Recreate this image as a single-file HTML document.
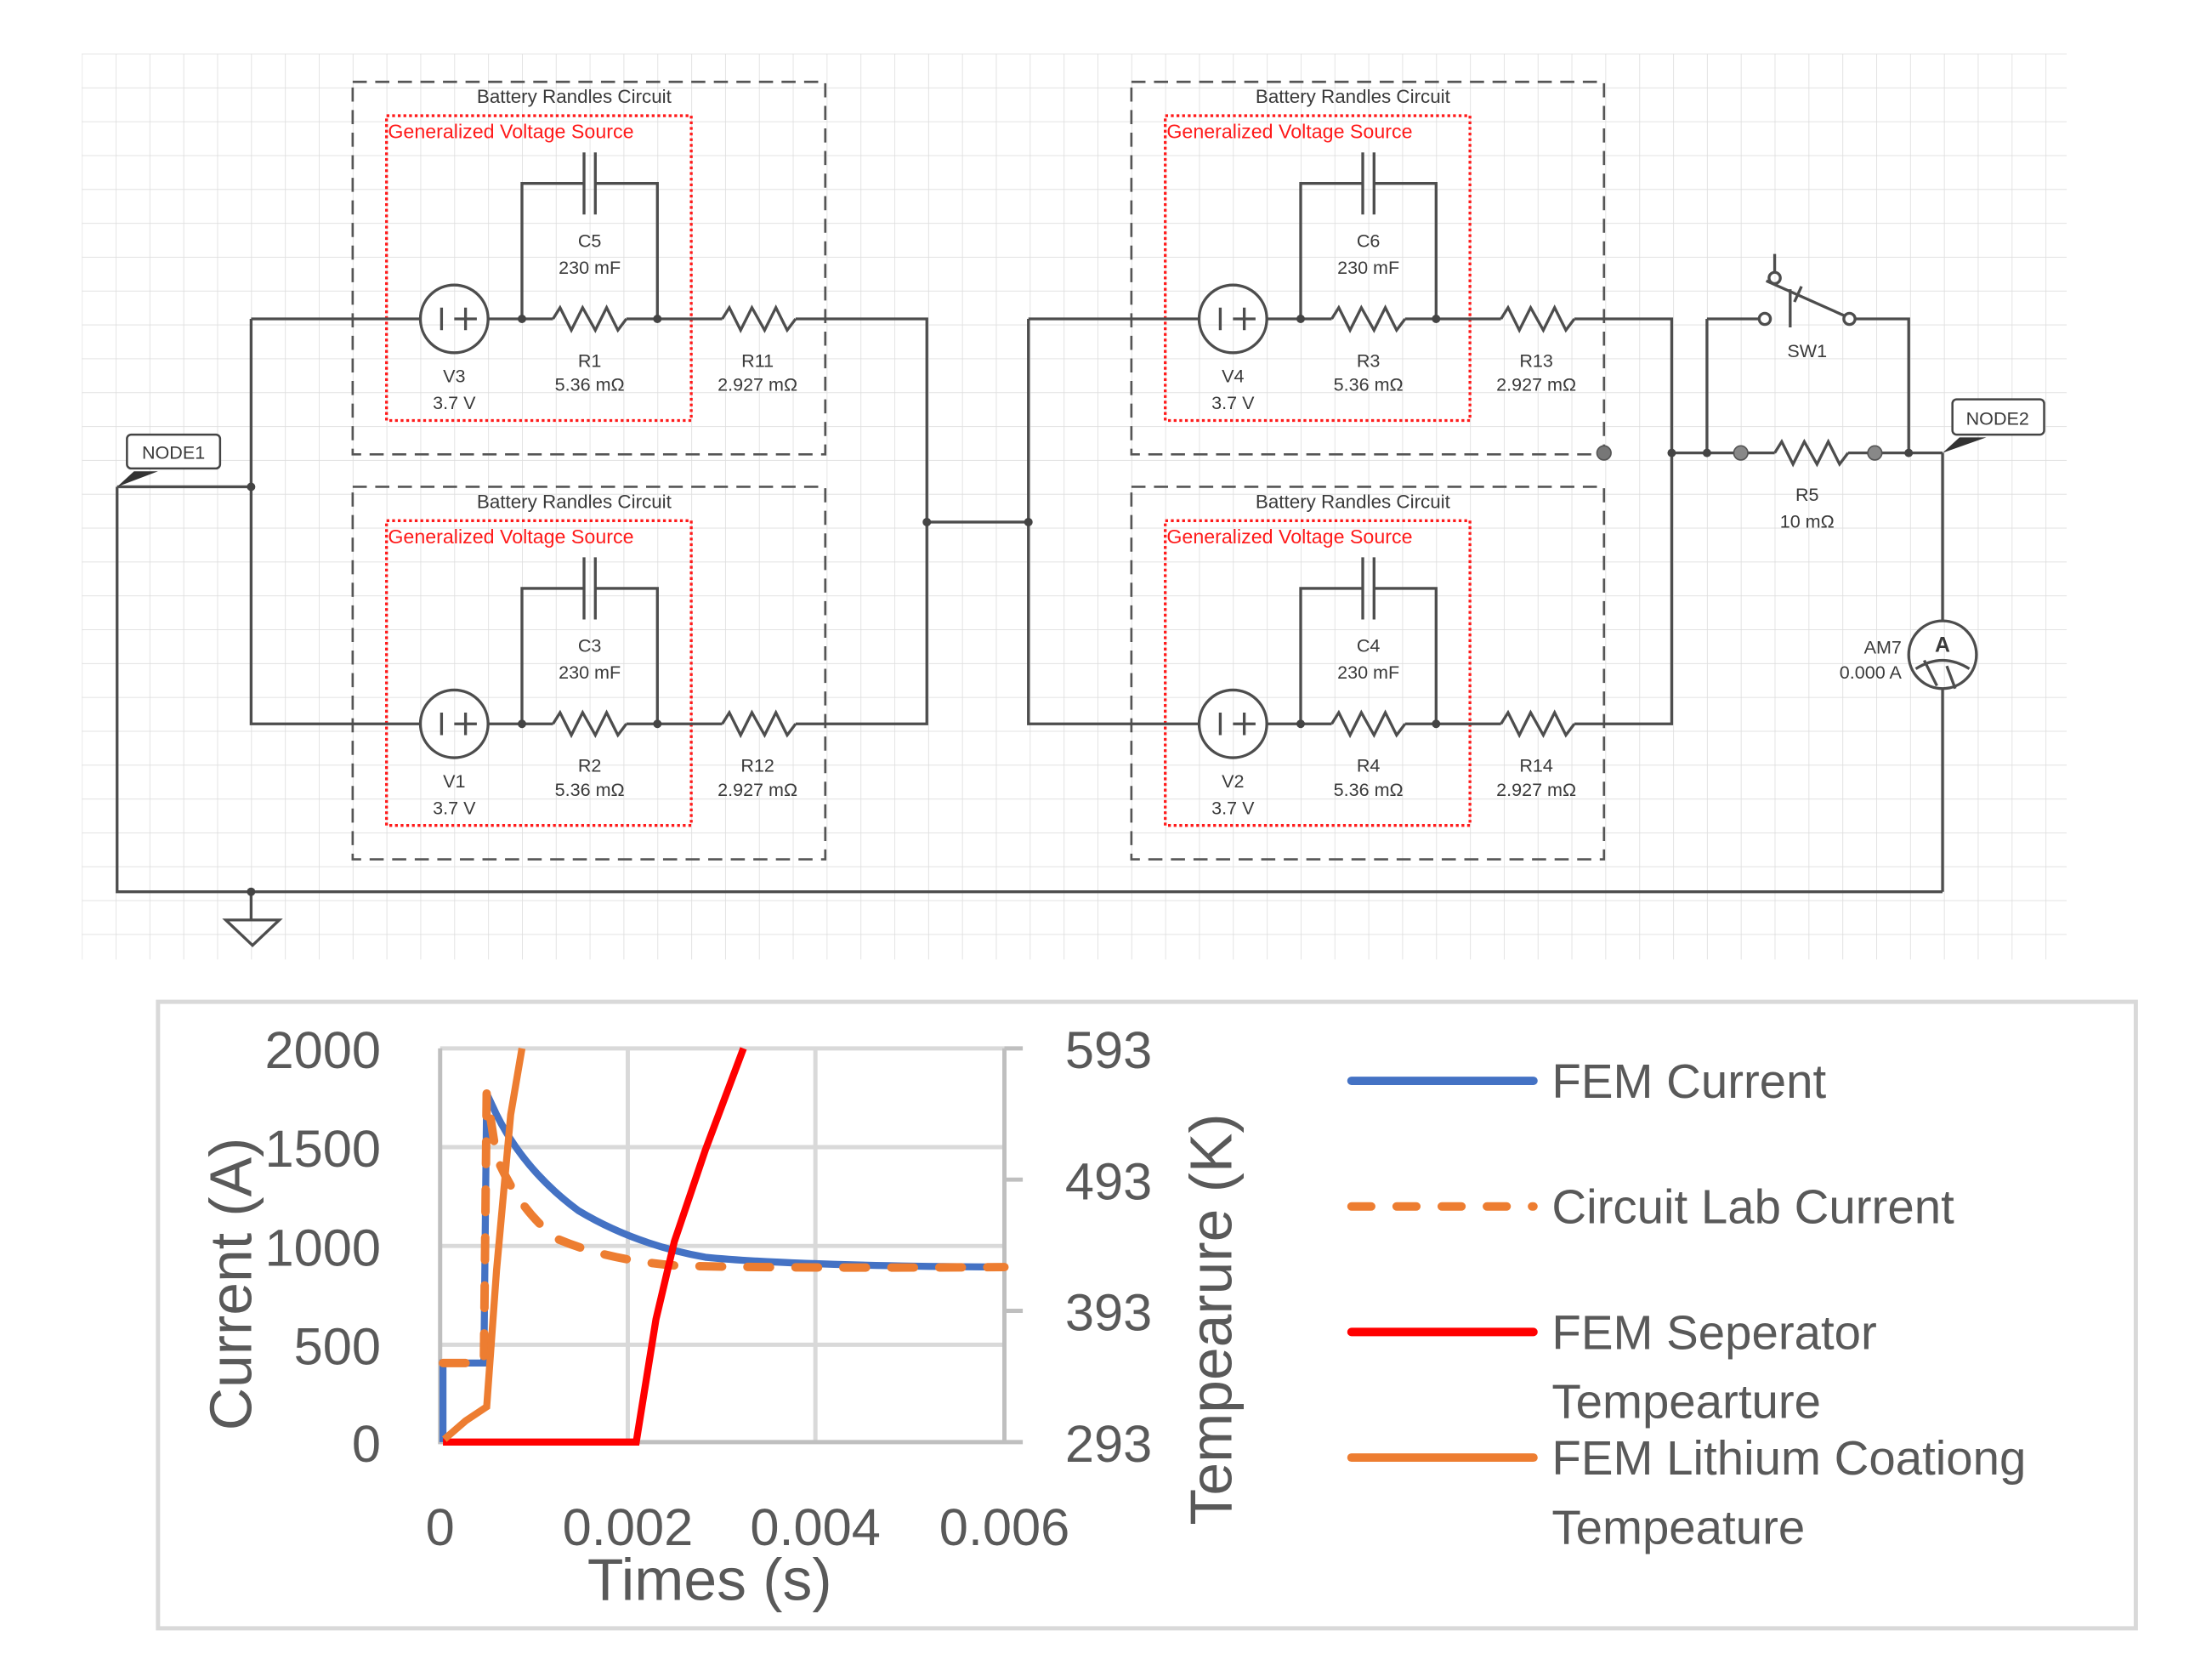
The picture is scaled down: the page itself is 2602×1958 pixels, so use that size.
<!DOCTYPE html>
<html><head><meta charset="utf-8"><style>
html,body{margin:0;padding:0;background:#fff;width:2602px;height:1958px;overflow:hidden}
svg{display:block}
.w{stroke:#4d4d4d;stroke-width:2;fill:none}
.t{font-family:"Liberation Sans",sans-serif;font-size:13px;fill:#3a3a3a;text-anchor:middle}
.c{font-family:"Liberation Sans",sans-serif;fill:#595959}
</style></head><body>
<svg width="2602" height="1958" viewBox="0 0 1568 1180" preserveAspectRatio="none">
<defs>
<pattern id="g" x="58" y="38" width="24" height="24" patternUnits="userSpaceOnUse">
<path d="M0 0H24M0 0V24" stroke="#dedede" stroke-width="1" fill="none"/>
</pattern>
<path id="res" d="M0 0 L5 -8 L13 8 L21 -8 L30 8 L38 -8 L46 8 L52 0" class="w"/>
<g id="box">
<rect x="250" y="58" width="335" height="264" fill="none" stroke="#555" stroke-width="1.6" stroke-dasharray="10 6"/>
<rect x="274" y="82" width="216" height="216" fill="none" stroke="#ff1a1a" stroke-width="2" stroke-dasharray="2 2"/>
<text x="407" y="73" class="t" style="font-size:13.5px">Battery Randles Circuit</text>
<text x="275" y="98" class="t" style="text-anchor:start;fill:#ff1a1a;font-size:14px">Generalized Voltage Source</text>
<circle cx="322" cy="226" r="24" class="w"/>
<path d="M313 218V234M322 226H338M330 218V234" class="w" stroke-width="1.6"/>
<path d="M346 226H392M444 226H512M564 226H585" class="w"/>
<use href="#res" x="392" y="226"/><use href="#res" x="512" y="226"/>
<path d="M370 226V130H414M422 130H466V226M414 108V152M422 108V152" class="w"/>
<circle cx="370" cy="226" r="3" fill="#444"/><circle cx="466" cy="226" r="3" fill="#444"/>
</g>
</defs>
<rect x="58" y="38" width="1407" height="642" fill="url(#g)"/>
<use href="#box"/>
<use href="#box" y="287"/>
<use href="#box" x="552"/>
<use href="#box" x="552" y="287"/>
<g class="t">
<text x="418" y="175">C5</text><text x="418" y="194">230 mF</text>
<text x="322" y="271">V3</text><text x="322" y="290">3.7 V</text>
<text x="418" y="260">R1</text><text x="418" y="277">5.36 mΩ</text>
<text x="537" y="260">R11</text><text x="537" y="277">2.927 mΩ</text>
<text x="418" y="462">C3</text><text x="418" y="481">230 mF</text>
<text x="322" y="558">V1</text><text x="322" y="577">3.7 V</text>
<text x="418" y="547">R2</text><text x="418" y="564">5.36 mΩ</text>
<text x="537" y="547">R12</text><text x="537" y="564">2.927 mΩ</text>
<text x="970" y="175">C6</text><text x="970" y="194">230 mF</text>
<text x="874" y="271">V4</text><text x="874" y="290">3.7 V</text>
<text x="970" y="260">R3</text><text x="970" y="277">5.36 mΩ</text>
<text x="1089" y="260">R13</text><text x="1089" y="277">2.927 mΩ</text>
<text x="970" y="462">C4</text><text x="970" y="481">230 mF</text>
<text x="874" y="558">V2</text><text x="874" y="577">3.7 V</text>
<text x="970" y="547">R4</text><text x="970" y="564">5.36 mΩ</text>
<text x="1089" y="547">R14</text><text x="1089" y="564">2.927 mΩ</text>
<text x="1281" y="253">SW1</text>
<text x="1281" y="355">R5</text><text x="1281" y="374">10 mΩ</text>
<text x="1348" y="463" style="text-anchor:end">AM7</text><text x="1348" y="481" style="text-anchor:end">0.000 A</text>
</g>
<path class="w" d="M178 226H298M178 226V513H298M83 345H178M83 345V632H1377M178 632V652M585 226H657V513H585M657 370H729M729 226H850M729 226V513H850M1137 226H1185V513H1137M1185 321H1230M1238 321H1258M1310 321H1325M1333 321H1377M1210 226V321M1210 226H1247M1315 226H1353V321M1377 321V440M1377 488V632"/>
<path d="M160 652H198L179 670Z" class="w"/>
<circle cx="178" cy="345" r="3" fill="#444"/><circle cx="178" cy="632" r="3" fill="#444"/>
<circle cx="657" cy="370" r="3" fill="#444"/><circle cx="729" cy="370" r="3" fill="#444"/>
<circle cx="1185" cy="321" r="3" fill="#444"/><circle cx="1210" cy="321" r="3" fill="#444"/><circle cx="1353" cy="321" r="3" fill="#444"/>
<circle cx="1137" cy="321" r="5" fill="#777" stroke="#555"/>
<circle cx="1234" cy="321" r="5" fill="#888" stroke="#555"/><circle cx="1329" cy="321" r="5" fill="#888" stroke="#555"/>
<use href="#res" x="1258" y="321"/>
<circle cx="1251" cy="226" r="4" fill="#fff" class="w" stroke-width="1.5"/>
<circle cx="1311" cy="226" r="4" fill="#fff" class="w" stroke-width="1.5"/>
<circle cx="1258" cy="197" r="4" fill="#fff" class="w" stroke-width="1.5"/>
<path class="w" d="M1258 180V193M1252 199L1308 224M1272 214L1277 203M1269 205V232" stroke-width="1.6"/>
<circle cx="1377" cy="464" r="24" class="w"/>
<text x="1377" y="462" class="t" style="font-size:15px;font-weight:bold">A</text>
<path class="w" stroke-width="1.3" d="M1358 474Q1377 462 1396 474M1364 468L1373 486M1380 472L1386 488"/>
<rect x="90" y="308" width="66" height="24" rx="3" fill="#fff" stroke="#444" stroke-width="1.5"/>
<text x="123" y="325" class="t">NODE1</text>
<path d="M83 345L95 334H112Z" fill="#333"/>
<rect x="1384" y="283" width="65" height="25" rx="3" fill="#fff" stroke="#444" stroke-width="1.5"/>
<text x="1416" y="301" class="t">NODE2</text>
<path d="M1377 321L1389 310H1408Z" fill="#333"/>
<rect x="112" y="710" width="1402" height="444" fill="#fff" stroke="#d9d9d9" stroke-width="3"/>
<g stroke="#d9d9d9" stroke-width="3">
<path d="M312 743H712M312 813H712M312 883H712M312 953H712M445 743V1022M578 743V1022"/>
</g>
<path d="M312 743V1022H712V743M712 836H725M712 929H725M712 1022H725M712 743H725" stroke="#bfbfbf" stroke-width="3" fill="none"/>
<g class="c" style="font-size:37px;text-anchor:end">
<text x="270" y="757">2000</text><text x="270" y="827">1500</text><text x="270" y="897">1000</text><text x="270" y="967">500</text><text x="270" y="1036">0</text>
</g>
<g class="c" style="font-size:37px">
<text x="755" y="757">593</text><text x="755" y="850">493</text><text x="755" y="943">393</text><text x="755" y="1036">293</text>
</g>
<g class="c" style="font-size:37px;text-anchor:middle">
<text x="312" y="1095">0</text><text x="445" y="1095">0.002</text><text x="578" y="1095">0.004</text><text x="712" y="1095">0.006</text>
<text x="503" y="1134" style="font-size:42px">Times (s)</text>
<text transform="translate(178 910) rotate(-90)" style="font-size:42px">Current (A)</text>
<text transform="translate(873 935) rotate(-90)" style="font-size:42px">Tempearure (K)</text>
</g>
<path d="M314 1022V966H343L345 775L352 790Q372 830 410 858Q450 882 500 891Q560 897 712 898" stroke="#4472c4" stroke-width="5" fill="none"/>
<path d="M314 966H343L345 775L352 820Q368 858 395 878Q430 893 480 897Q560 899 712 898" stroke="#ed7d31" stroke-width="6" fill="none" stroke-dasharray="16 18" stroke-linecap="round"/>
<path d="M314 1022H451L465 935L478 880L500 815L527 743" stroke="#ff0000" stroke-width="5" fill="none"/>
<path d="M315 1020L330 1007L345 997L352 900L362 790L370 743" stroke="#ed7d31" stroke-width="5" fill="none"/>
<path d="M958 766H1087" stroke="#4472c4" stroke-width="6" stroke-linecap="round"/>
<path d="M958 855H1087" stroke="#ed7d31" stroke-width="6" stroke-dasharray="14 18" stroke-linecap="round"/>
<path d="M958 944H1087" stroke="#ff0000" stroke-width="6" stroke-linecap="round"/>
<path d="M958 1033H1087" stroke="#ed7d31" stroke-width="6" stroke-linecap="round"/>
<g class="c" style="font-size:34px">
<text x="1100" y="778">FEM Current</text>
<text x="1100" y="867">Circuit Lab Current</text>
<text x="1100" y="956">FEM Seperator</text>
<text x="1100" y="1005">Tempearture</text>
<text x="1100" y="1045">FEM Lithium Coationg</text>
<text x="1100" y="1094">Tempeature</text>
</g>
</svg>
</body></html>
